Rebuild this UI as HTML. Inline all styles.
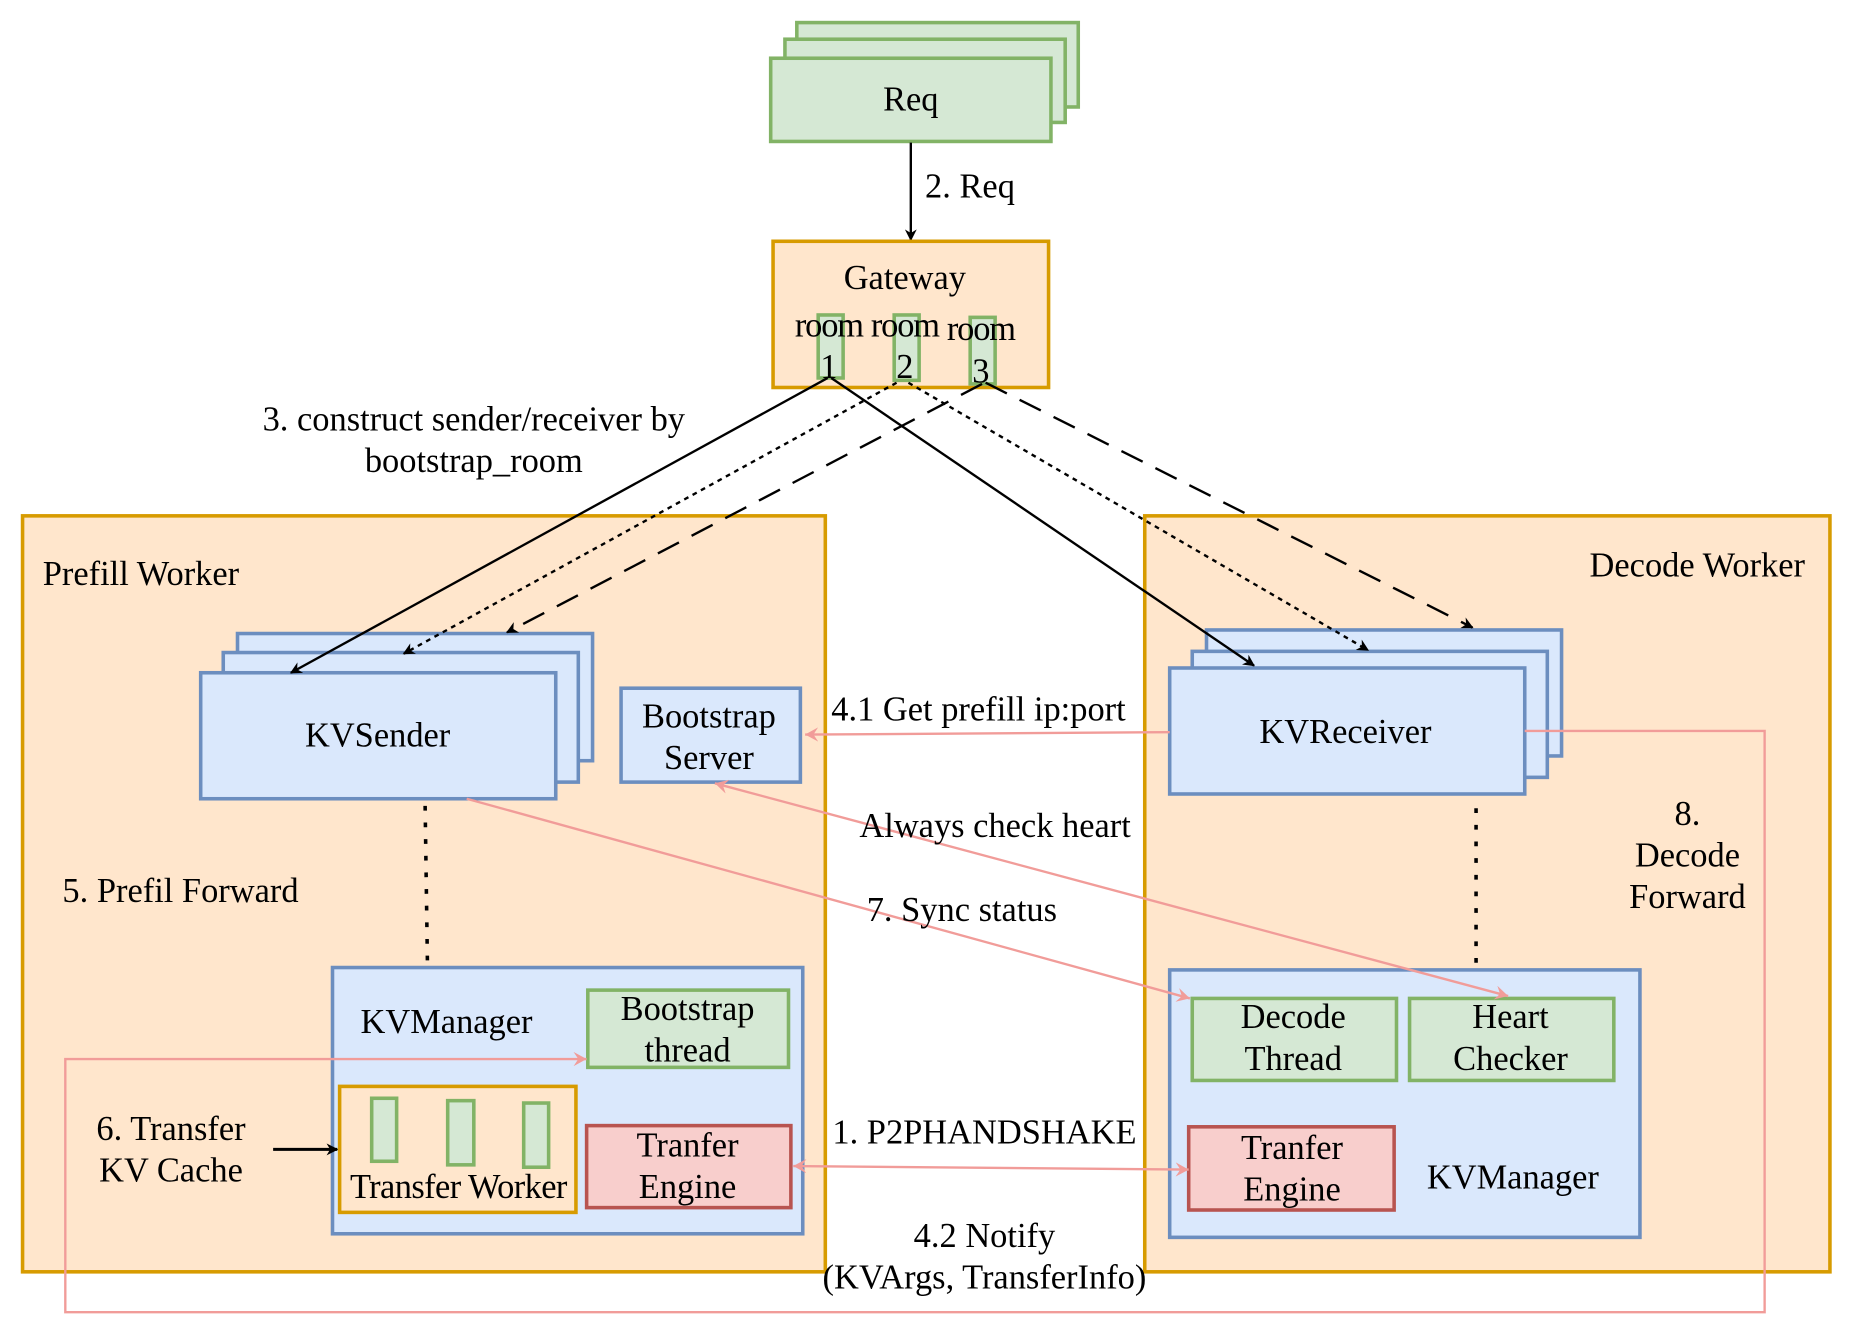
<!DOCTYPE html>
<html><head><meta charset="utf-8"><style>html,body{margin:0;padding:0;background:#fff}svg{display:block}</style></head>
<body>
<svg width="1862" height="1336" viewBox="0 0 1568 1124" preserveAspectRatio="none" xmlns="http://www.w3.org/2000/svg" font-family="Liberation Serif, serif" font-size="29" text-anchor="middle">
<defs>
<marker id="a" markerWidth="10" markerHeight="10" refX="9" refY="5" orient="auto" markerUnits="userSpaceOnUse"><path d="M0,0 L10,5 L0,10 L3,5 z" fill="#000"/></marker>
<marker id="p" markerWidth="12" markerHeight="12" refX="11" refY="6" orient="auto-start-reverse" markerUnits="userSpaceOnUse"><path d="M0,0 L11,6 L0,12 L4,6 z" fill="#f19c99"/></marker>
</defs>
<g fill="#d5e8d4" stroke="#82b366" stroke-width="3">
<rect x="671" y="19" width="237" height="71"/><rect x="661" y="33" width="236" height="70"/><rect x="649" y="49" width="236" height="70"/></g>
<text x="767" y="93">Req</text>
<line x1="767" y1="120" x2="767" y2="202" stroke="#000" stroke-width="2" marker-end="url(#a)"/>
<text x="779" y="166" text-anchor="start">2. Req</text>
<rect x="19" y="434" width="676" height="636" fill="#ffe6cc" stroke="#d79b00" stroke-width="3"/>
<rect x="964" y="434" width="577" height="636" fill="#ffe6cc" stroke="#d79b00" stroke-width="3"/>
<text x="36" y="492" text-anchor="start">Prefill Worker</text>
<text x="1520" y="485" text-anchor="end">Decode Worker</text>
<rect x="651" y="203" width="232" height="123" fill="#ffe6cc" stroke="#d79b00" stroke-width="3"/>
<g fill="#d5e8d4" stroke="#82b366" stroke-width="3">
<rect x="689" y="265" width="21" height="53"/><rect x="753" y="265" width="21" height="55"/><rect x="817" y="267" width="21" height="56"/></g>
<text x="762" y="243">Gateway</text>
<text x="698" y="283" letter-spacing="-1">room</text><text x="698" y="318">1</text>
<text x="762" y="283" letter-spacing="-1">room</text><text x="762" y="318">2</text>
<text x="826" y="286" letter-spacing="-1">room</text><text x="826" y="322">3</text>
<text x="399" y="362">3. construct sender/receiver by</text>
<text x="399" y="397">bootstrap_room</text>
<g fill="#dae8fc" stroke="#6c8ebf" stroke-width="3">
<rect x="200" y="533" width="299" height="107"/><rect x="188" y="549" width="299" height="109"/><rect x="169" y="566" width="299" height="106"/>
<rect x="523" y="579" width="151" height="79"/>
<rect x="1016" y="530" width="299" height="106"/><rect x="1004" y="548" width="299" height="106"/><rect x="985" y="562" width="299" height="106"/>
<rect x="280" y="814" width="396" height="224"/>
<rect x="985" y="816" width="396" height="225"/>
</g>
<text x="318" y="628">KVSender</text>
<text x="597" y="612">Bootstrap</text><text x="597" y="647">Server</text>
<text x="1133" y="625">KVReceiver</text>
<g stroke="#000" stroke-width="2" fill="none">
<line x1="697" y1="318" x2="245" y2="566" marker-end="url(#a)"/>
<line x1="755" y1="322" x2="340" y2="550" stroke-dasharray="4 4" marker-end="url(#a)"/>
<line x1="827" y1="323" x2="427" y2="532" stroke-dasharray="20 12" marker-end="url(#a)"/>
<line x1="700" y1="318" x2="1056" y2="560" marker-end="url(#a)"/>
<line x1="765" y1="322" x2="1152" y2="547" stroke-dasharray="4 4" marker-end="url(#a)"/>
<line x1="830" y1="322" x2="1240" y2="528" stroke-dasharray="20 12" marker-end="url(#a)"/>
<line x1="358" y1="678" x2="360" y2="814" stroke-width="3" stroke-dasharray="4 10"/>
<line x1="1243" y1="680" x2="1243" y2="816" stroke-width="3" stroke-dasharray="4 10"/>
<line x1="230" y1="967" x2="284" y2="967" stroke-width="2.5" marker-end="url(#a)"/>
</g>
<rect x="495" y="833" width="169" height="65" fill="#d5e8d4" stroke="#82b366" stroke-width="3"/>
<rect x="286" y="914" width="199" height="106" fill="#ffe6cc" stroke="#d79b00" stroke-width="3"/>
<g fill="#d5e8d4" stroke="#82b366" stroke-width="3">
<rect x="313" y="924" width="21" height="53"/><rect x="377" y="926" width="22" height="54"/><rect x="441" y="928" width="21" height="54"/></g>
<rect x="494" y="947" width="172" height="69" fill="#f8cecc" stroke="#b85450" stroke-width="3"/>
<text x="376" y="869">KVManager</text>
<text x="579" y="858">Bootstrap</text><text x="579" y="893">thread</text>
<text x="386" y="1008" letter-spacing="-0.5">Transfer Worker</text>
<text x="579" y="973">Tranfer</text><text x="579" y="1008">Engine</text>
<text x="152" y="759">5. Prefil Forward</text>
<text x="144" y="959">6. Transfer</text><text x="144" y="994">KV Cache</text>
<g fill="#d5e8d4" stroke="#82b366" stroke-width="3">
<rect x="1004" y="840" width="172" height="69"/><rect x="1187" y="840" width="172" height="69"/></g>
<rect x="1001" y="948" width="173" height="70" fill="#f8cecc" stroke="#b85450" stroke-width="3"/>
<text x="1089" y="865">Decode</text><text x="1089" y="900">Thread</text>
<text x="1272" y="865">Heart</text><text x="1272" y="900">Checker</text>
<text x="1088" y="975">Tranfer</text><text x="1088" y="1010">Engine</text>
<text x="1274" y="1000">KVManager</text>
<text x="1421" y="694">8.</text><text x="1421" y="729">Decode</text><text x="1421" y="764">Forward</text>
<g stroke="#f19c99" stroke-width="2" fill="none">
<line x1="985" y1="616" x2="678" y2="618" marker-end="url(#p)"/>
<line x1="1270" y1="838" x2="602" y2="659" marker-start="url(#p)" marker-end="url(#p)"/>
<line x1="393" y1="672" x2="1002" y2="840" marker-end="url(#p)"/>
<line x1="668" y1="981" x2="1001" y2="984" marker-start="url(#p)" marker-end="url(#p)"/>
<polyline points="1284,615 1486,615 1486,1104 55,1104 55,891 494,891" marker-end="url(#p)"/>
</g>
<text x="824" y="606">4.1 Get prefill ip:port</text>
<text x="838" y="704">Always check heart</text>
<text x="810" y="775">7. Sync status</text>
<text x="829" y="962">1. P2PHANDSHAKE</text>
<text x="829" y="1049">4.2 Notify</text>
<text x="829" y="1084">(KVArgs, TransferInfo)</text>
</svg>
</body></html>
